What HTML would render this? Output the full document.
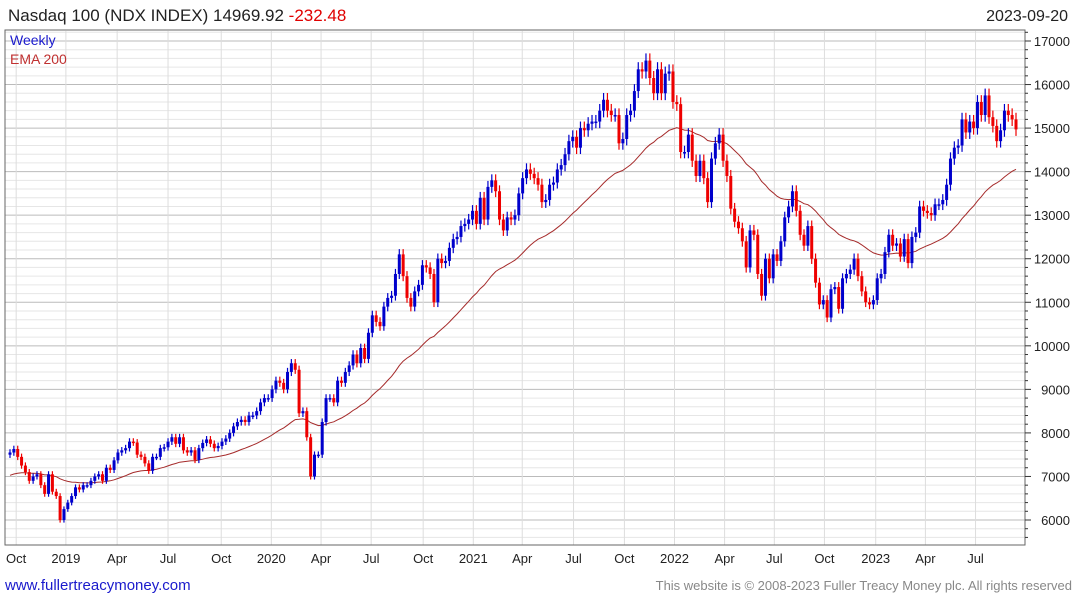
<!DOCTYPE html>
<html><head><meta charset="utf-8">
<style>
body{margin:0;background:#fff;font-family:"Liberation Sans",sans-serif;}
svg text{font-family:"Liberation Sans",sans-serif;}
</style></head>
<body>
<svg id="chart" width="1075" height="600" xmlns="http://www.w3.org/2000/svg">
<rect x="0" y="0" width="1075" height="600" fill="#fff"/>
<text x="8" y="21" font-size="17" fill="#222">Nasdaq 100 (NDX INDEX) 14969.92 <tspan fill="#e00000">-232.48</tspan></text>
<text x="1068" y="21" font-size="16" fill="#222" text-anchor="end">2023-09-20</text>
<g id="grid"></g>
<g id="ema"></g>
<g id="candles"></g>
<rect x="5" y="30" width="1020" height="515" fill="none" stroke="#666" stroke-width="1"/>
<text x="10" y="45" font-size="14" fill="#1a1acc">Weekly</text>
<text x="10" y="64" font-size="14" fill="#c03030">EMA 200</text>
<g id="axes"></g>
<text x="5" y="590" font-size="15" fill="#1a1acc">www.fullertreacymoney.com</text>
<text x="1072" y="590" font-size="13" fill="#888" text-anchor="end">This website is © 2008-2023 Fuller Treacy Money plc. All rights reserved</text>
</svg>
<script>
const closes=[7550,7630,7450,7250,7100,6900,7000,7050,6800,6600,7050,6650,6550,6000,6250,
6400,6550,6750,6700,6800,6800,6900,7000,7050,6900,7200,7150,7370,7550,7600,7650,7800,7780,7500,7450,7300,7130,7450,7450,7650,7670,7800,7900,7750,7900,7600,7550,7600,7380,7650,7770,7850,7750,7650,7700,7800,7870,8000,8150,8250,8300,8250,8400,8400,8500,8700,8800,
8800,9000,9200,9150,9000,9400,9600,9450,8450,8500,7900,7000,7500,7500,8250,8800,8800,8700,9200,9150,9400,9550,9800,9600,9950,9700,10300,10700,10550,10450,10900,11100,11150,11650,12100,11600,11100,10900,11250,11400,11850,11800,11650,11000,12000,11900,11950,12250,12450,12500,12750,12800,
12900,13100,12800,13400,12900,13650,13800,13550,12900,12650,12950,12900,13000,13500,13850,14050,13950,13850,13700,13300,13350,13700,13750,14050,14150,14400,14700,14800,14550,15000,14950,15100,15150,15150,15400,15650,15400,15300,15300,14650,14750,15300,15400,15850,16350,16300,16550,16150,15800,16350,15800,16250,16300,
15600,15550,14450,14450,14850,14250,13900,14250,13850,13300,14300,14650,14850,14250,13900,13150,12850,12700,12400,11800,12650,12550,11650,11150,12000,11550,12100,11950,12400,12950,13200,13550,13100,12550,12300,12750,12000,11450,10950,11050,10650,11300,11350,10850,11550,11650,11750,12000,11600,11250,11000,10950,
11050,11550,11650,12150,12550,12300,12350,12050,12450,11900,12500,12600,13200,13100,13050,13000,13250,13250,13350,13700,14300,14550,14600,15200,14900,15150,15000,15600,15300,15750,15250,15050,14700,14950,15400,15300,15200,14970];
const firstOpen=7500;
const emaSeed=7000;
const emaPeriod=40;
const yTicks=[6000,7000,8000,9000,10000,11000,12000,13000,14000,15000,16000,17000];
const xLabels=["Oct","2019","Apr","Jul","Oct","2020","Apr","Jul","Oct","2021","Apr","Jul","Oct","2022","Apr","Jul","Oct","2023","Apr","Jul"];
const xLabelWeeks=[1.6,14.5,27.8,41,54.8,67.8,80.7,93.7,107.2,120.2,132.9,146.2,159.4,172.4,185.4,198.3,211.3,224.6,237.5,250.5];

const NS="http://www.w3.org/2000/svg";
function y(v){return 520-(v-6000)*(479/11000);}
const n=closes.length;
const step=(1016-10)/(n-1);
function x(i){return 10+i*step;}
function mk(tag,attrs,parent){const e=document.createElementNS(NS,tag);for(const k in attrs)e.setAttribute(k,attrs[k]);parent.appendChild(e);return e;}
const grid=document.getElementById('grid'),axes=document.getElementById('axes');
for(let v=5600;v<=17200;v+=200){
  const major=v%1000===0;
  if(y(v)<31||y(v)>544)continue;
  const l=mk('line',{x1:5,x2:1025,y1:y(v),y2:y(v),stroke:major?'#bbb':'#e6e6e6','stroke-width':1},grid);
  
  
  const t=mk('line',{x1:1025,x2:major?1031:1028,y1:y(v),y2:y(v),stroke:'#333'},axes);
  
  
}
yTicks.forEach(v=>{const t=mk('text',{x:1070,y:y(v)+5,'font-size':13,fill:'#222','text-anchor':'end'},axes);t.textContent=v;

});
xLabels.forEach((s,k)=>{const xx=x(xLabelWeeks[k]);
const l=mk('line',{x1:xx,x2:xx,y1:31,y2:545,stroke:'#ddd'},grid);


const t=mk('text',{x:xx,y:563,'font-size':13,fill:'#222','text-anchor':'middle'},axes);t.textContent=s;

});
// EMA
let e=emaSeed;const a=2/(emaPeriod+1);let pts=[];
for(let i=0;i<n;i++){e=e+a*(closes[i]-e);pts.push(x(i).toFixed(1)+','+y(e).toFixed(1));}
const pl=mk('polyline',{points:pts.join(' '),fill:'none',stroke:'#a52a2a','stroke-width':1},document.getElementById('ema'));


// candles
const cg=document.getElementById('candles');
for(let i=0;i<n;i++){
  const o=i===0?firstOpen:closes[i-1],c=closes[i];
  const hi=Math.max(o,c)*1.01,lo=Math.min(o,c)*0.99;
  const col=c>=o?'#0000cc':'#ee0000';
  const g=mk('g',{},cg);
  
  
  mk('line',{x1:x(i),x2:x(i),y1:y(hi),y2:y(lo),stroke:col,'stroke-width':1.2},g);
  const top=y(Math.max(o,c)),bh=Math.max(1.5,y(Math.min(o,c))-top);
  mk('rect',{x:x(i)-1.5,y:top,width:3,height:bh,fill:col},g);
}
</script>
</body></html>
